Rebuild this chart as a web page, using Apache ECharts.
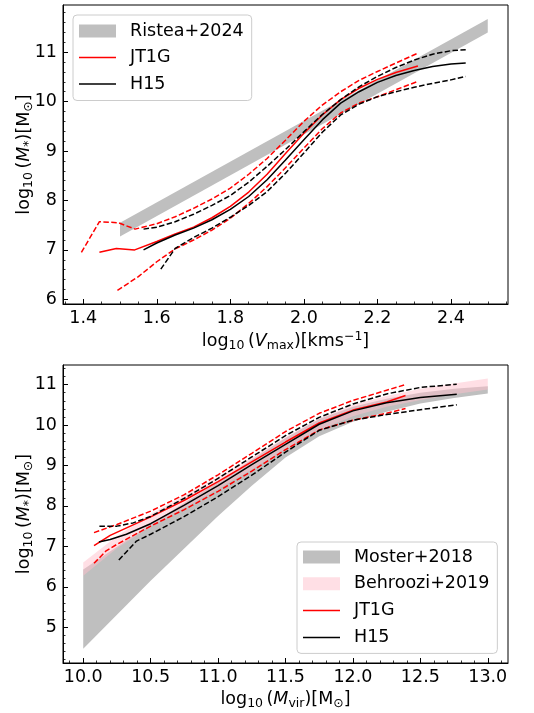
<!DOCTYPE html>
<html>
<head>
<meta charset="utf-8">
<script src="https://cdn.jsdelivr.net/npm/echarts@6/dist/echarts.min.js"></script>
<style>
  html, body { margin: 0; padding: 0; background: #fff; }
  #chart { width: 534px; height: 713px; }
</style>
</head>
<body>
<div id="chart"></div>
<script>
// ---------- Upper panel: stellar mass vs log10 Vmax ----------
const ristX  = [1.5, 2.5];
const ristLo = [7.27, 11.40];
const ristHi = [7.55, 11.67];

const vJT   = [1.444, 1.49, 1.54, 1.6, 1.65, 1.7, 1.75, 1.8, 1.85, 1.9, 1.95, 2.0, 2.05, 2.1, 2.15, 2.2, 2.25, 2.31];
const jtMed = [6.95, 7.03, 7.0, 7.17, 7.32, 7.46, 7.65, 7.88, 8.17, 8.53, 8.95, 9.36, 9.73, 10.04, 10.27, 10.45, 10.59, 10.72];

const vJTup = [1.395, 1.444, 1.495, 1.541, 1.6, 1.65, 1.7, 1.75, 1.8, 1.85, 1.9, 1.95, 2.0, 2.05, 2.1, 2.15, 2.2, 2.25, 2.31];
const jtHi  = [6.95, 7.57, 7.55, 7.42, 7.53, 7.67, 7.84, 8.03, 8.25, 8.53, 8.85, 9.22, 9.6, 9.93, 10.2, 10.43, 10.61, 10.78, 10.98];

const vJTlo = [1.493, 1.55, 1.6, 1.65, 1.7, 1.75, 1.8, 1.85, 1.9, 1.95, 2.0, 2.05, 2.1, 2.15, 2.2, 2.25, 2.31];
const jtLo  = [6.18, 6.46, 6.76, 7.02, 7.2, 7.4, 7.64, 7.94, 8.28, 8.66, 9.06, 9.45, 9.77, 9.97, 10.1, 10.24, 10.41];

const vH   = [1.564, 1.6, 1.65, 1.7, 1.75, 1.8, 1.85, 1.9, 1.95, 2.0, 2.05, 2.1, 2.15, 2.2, 2.25, 2.3, 2.35, 2.4, 2.44];
const hMed = [7.0, 7.14, 7.3, 7.44, 7.61, 7.82, 8.08, 8.42, 8.82, 9.23, 9.63, 9.97, 10.2, 10.39, 10.53, 10.63, 10.71, 10.76, 10.78];

const vHup = [1.564, 1.6, 1.65, 1.7, 1.75, 1.8, 1.85, 1.9, 1.95, 2.0, 2.05, 2.1, 2.15, 2.2, 2.25, 2.3, 2.35, 2.4, 2.44];
const hHi  = [7.42, 7.46, 7.57, 7.72, 7.9, 8.1, 8.37, 8.69, 9.03, 9.39, 9.74, 10.04, 10.3, 10.51, 10.69, 10.84, 10.96, 11.03, 11.05];

const vHlo = [1.611, 1.65, 1.7, 1.75, 1.8, 1.85, 1.9, 1.95, 2.0, 2.05, 2.1, 2.15, 2.2, 2.25, 2.3, 2.35, 2.4, 2.44];
const hLo  = [6.61, 7.03, 7.25, 7.44, 7.66, 7.9, 8.18, 8.55, 8.96, 9.38, 9.73, 9.95, 10.1, 10.2, 10.29, 10.37, 10.44, 10.51];

// ---------- Lower panel: stellar mass vs log10 Mvir ----------
const mosX  = [10.0, 10.5, 11.0, 11.25, 11.5, 11.75, 12.0, 12.25, 12.5, 12.75, 13.0];
const mosLo = [4.47, 6.15, 7.75, 8.5, 9.2, 9.72, 10.08, 10.33, 10.53, 10.67, 10.78];
const mosHi = [6.43, 7.55, 8.6, 9.15, 9.68, 10.15, 10.45, 10.65, 10.8, 10.9, 10.96];

const behX  = [10.0, 10.25, 10.5, 10.75, 11.0, 11.25, 11.5, 11.75, 12.0, 12.25, 12.5, 12.75, 13.0];
const behLo = [6.27, 6.95, 7.5, 7.95, 8.42, 8.9, 9.4, 9.88, 10.22, 10.45, 10.62, 10.76, 10.88];
const behHi = [6.6, 7.25, 7.8, 8.25, 8.72, 9.2, 9.7, 10.16, 10.5, 10.72, 10.9, 11.03, 11.15];

const mJT    = [10.08, 10.2, 10.35, 10.5, 10.75, 11.0, 11.25, 11.5, 11.75, 12.0, 12.25, 12.39];
const bJtMed = [7.02, 7.27, 7.5, 7.73, 8.14, 8.6, 9.09, 9.58, 10.05, 10.37, 10.57, 10.73];

const mJTup = [10.08, 10.25, 10.5, 10.75, 11.0, 11.25, 11.5, 11.75, 12.0, 12.25, 12.39];
const bJtHi = [7.34, 7.54, 7.87, 8.28, 8.77, 9.3, 9.84, 10.29, 10.61, 10.86, 11.0];

const mJTlo = [10.08, 10.17, 10.25, 10.5, 10.75, 11.0, 11.25, 11.5, 11.75, 12.0, 12.25, 12.39];
const bJtLo = [6.58, 6.89, 7.05, 7.5, 7.91, 8.36, 8.86, 9.39, 9.88, 10.12, 10.29, 10.41];

const mH    = [10.116, 10.2, 10.32, 10.5, 10.75, 11.0, 11.25, 11.5, 11.75, 12.0, 12.25, 12.5, 12.77];
const bHMed = [7.11, 7.17, 7.3, 7.56, 8.02, 8.5, 9.02, 9.52, 10.02, 10.35, 10.55, 10.68, 10.76];

const mHup = [10.12, 10.25, 10.37, 10.5, 10.75, 11.0, 11.25, 11.5, 11.75, 12.0, 12.25, 12.5, 12.77];
const bHHi = [7.5, 7.5, 7.58, 7.74, 8.19, 8.68, 9.21, 9.74, 10.19, 10.52, 10.77, 10.93, 11.01];

const mHlo = [10.264, 10.395, 10.5, 10.75, 11.0, 11.25, 11.5, 11.75, 12.0, 12.25, 12.5, 12.77];
const bHLo = [6.66, 7.13, 7.3, 7.74, 8.23, 8.76, 9.33, 9.87, 10.12, 10.26, 10.38, 10.5];

// ---------- Tick labels ----------
const topXTicks = [1.4, 1.6, 1.8, 2.0, 2.2, 2.4];
const topYTicks = [6, 7, 8, 9, 10, 11];
const botXTicks = [10.0, 10.5, 11.0, 11.5, 12.0, 12.5, 13.0];
const botYTicks = [5, 6, 7, 8, 9, 10, 11];

// ---------- Helpers ----------
const FONT = 'DejaVu Sans';
const FS = 17.5;
const RED = '#ff0000';
const BLACK = '#000000';
const DASH = [5.5, 2.4];
const LINE_ICON = 'path://M0,0h37v1.5h-37z';

function minorTicks(lo, hi, step, majors) {
  const out = [];
  const n = Math.round((hi - lo) / step);
  for (let k = 0; k <= n; k++) {
    const v = +(lo + k * step).toFixed(4);
    if (!majors.some(m => Math.abs(m - v) < 1e-6)) out.push(v);
  }
  return out;
}
const pairs = (xs, ys) => xs.map((x, k) => [x, ys[k]]);

const RICH = {
  n: { fontFamily: FONT, fontSize: FS, lineHeight: 22, color: '#000' },
  i: { fontFamily: FONT, fontSize: FS, lineHeight: 22, fontStyle: 'italic', color: '#000' },
  s: { fontFamily: FONT, fontSize: 12.5, lineHeight: 12, verticalAlign: 'bottom', color: '#000' },
  p: { fontFamily: FONT, fontSize: 12.5, lineHeight: 12, verticalAlign: 'top', color: '#000' }
};

const LIMITS = {
  topX: [1.345, 2.555], topY: [5.905, 11.955],
  botX: [9.85, 13.15],  botY: [4.115, 11.485]
};

function majorAxis(kind, grid, lim, ticks, fmt, name, gap) {
  const isX = kind === 'x';
  return {
    type: 'value', gridIndex: grid, min: lim[0], max: lim[1],
    position: isX ? 'bottom' : 'left',
    name: name, nameLocation: 'middle', nameGap: gap, nameMoveOverlap: false,
    nameRotate: isX ? 0 : 90,
    nameTextStyle: { rich: RICH },
    axisLine: { show: true, onZero: false, lineStyle: { color: '#000', width: 1 } },
    axisTick: { show: true, inside: true, length: 5, customValues: ticks, lineStyle: { color: '#000', width: 1 } },
    axisLabel: { show: true, customValues: ticks, formatter: fmt, margin: isX ? 5 : 6,
                 fontFamily: FONT, fontSize: FS, color: '#000' },
    splitLine: { show: false },
    minorTick: { show: false }
  };
}
function minorAxis(kind, grid, lim, ticks) {
  const isX = kind === 'x';
  return {
    type: 'value', gridIndex: grid, min: lim[0], max: lim[1],
    position: isX ? 'bottom' : 'left',
    axisLine: { show: false, onZero: false },
    axisTick: { show: true, inside: true, length: 2.5, customValues: ticks, lineStyle: { color: '#000', width: 0.8 } },
    axisLabel: { show: false },
    splitLine: { show: false }
  };
}

function band(name, grid, xs, lo, hi, fill, z) {
  return {
    type: 'custom', name: name, xAxisIndex: grid, yAxisIndex: grid,
    silent: true, z: z,
    itemStyle: { color: fill },
    data: xs.map((x, k) => [x, lo[k], hi[k]]),
    encode: { x: 0, y: [1, 2] },
    renderItem: function (params, api) {
      if (params.dataIndex !== 0) return;
      const pts = [];
      for (let k = 0; k < xs.length; k++) pts.push(api.coord([xs[k], hi[k]]));
      for (let k = xs.length - 1; k >= 0; k--) pts.push(api.coord([xs[k], lo[k]]));
      return { type: 'polygon', shape: { points: pts }, style: { fill: fill } };
    }
  };
}
function curve(name, grid, xs, ys, color, dashed) {
  return {
    type: 'line', name: name, xAxisIndex: grid, yAxisIndex: grid,
    data: pairs(xs, ys), symbol: 'none', showSymbol: false, smooth: false,
    z: 3, silent: true,
    itemStyle: { color: color },
    lineStyle: { color: color, width: 1.5, type: dashed ? DASH : 'solid' }
  };
}

const legendBase = {
  orient: 'vertical', selectedMode: false,
  itemWidth: 37, itemHeight: 13,
  backgroundColor: 'rgba(255,255,255,0.8)',
  borderColor: '#cccccc', borderWidth: 1, borderRadius: 4,
  textStyle: { fontFamily: FONT, fontSize: FS, color: '#000', lineHeight: 20, padding: [0, 0, 0, 9] }
};

const GRAY = '#bfbfbf';
const PINK = 'rgba(255,192,203,0.5)';

const option = {
  animation: false,
  backgroundColor: '#ffffff',
  grid: [
    { left: 63, top: 5, width: 445, height: 299, show: true, borderColor: '#000', borderWidth: 1, outerBoundsMode: 'none' },
    { left: 63, top: 365, width: 445, height: 298, show: true, borderColor: '#000', borderWidth: 1, outerBoundsMode: 'none' }
  ],
  xAxis: [
    majorAxis('x', 0, LIMITS.topX, topXTicks, v => (+v).toFixed(1),
      '{n|log}{s|10}{n|\u2009(}{i|V}{s|max}{n|)[kms}{p|\u22121}{n|]}', 26),
    majorAxis('x', 1, LIMITS.botX, botXTicks, v => (+v).toFixed(1),
      '{n|log}{s|10}{n|\u2009(}{i|M}{s|vir}{n|)[M}{s|\u2299}{n|]}', 25),
    minorAxis('x', 0, LIMITS.topX, minorTicks(1.35, 2.55, 0.05, topXTicks)),
    minorAxis('x', 1, LIMITS.botX, minorTicks(9.9, 13.1, 0.1, botXTicks))
  ],
  yAxis: [
    majorAxis('y', 0, LIMITS.topY, topYTicks, v => String(Math.round(v)),
      '{n|log}{s|10}{n|\u2009(}{i|M}{s|*}{n|)[M}{s|\u2299}{n|]}', 28),
    majorAxis('y', 1, LIMITS.botY, botYTicks, v => String(Math.round(v)),
      '{n|log}{s|10}{n|\u2009(}{i|M}{s|*}{n|)[M}{s|\u2299}{n|]}', 28),
    minorAxis('y', 0, LIMITS.topY, minorTicks(6.0, 11.8, 0.2, topYTicks)),
    minorAxis('y', 1, LIMITS.botY, minorTicks(4.2, 11.4, 0.2, botYTicks))
  ],
  legend: [
    Object.assign({}, legendBase, {
      left: 73, top: 15, padding: [6, 8, 6.5, 6], itemGap: 6.5,
      data: [
        { name: 'Ristea+2024', icon: 'rect', itemStyle: { color: GRAY } },
        { name: 'JT1G', icon: LINE_ICON, itemStyle: { color: RED } },
        { name: 'H15', icon: LINE_ICON, itemStyle: { color: BLACK } }
      ]
    }),
    Object.assign({}, legendBase, {
      left: 297, top: 542, padding: [5, 8, 6, 6], itemGap: 6.8,
      data: [
        { name: 'Moster+2018', icon: 'rect', itemStyle: { color: GRAY } },
        { name: 'Behroozi+2019', icon: 'rect', itemStyle: { color: PINK } },
        { name: 'JT1G', icon: LINE_ICON, itemStyle: { color: RED } },
        { name: 'H15', icon: LINE_ICON, itemStyle: { color: BLACK } }
      ]
    })
  ],
  series: [
    band('Ristea+2024', 0, ristX, ristLo, ristHi, GRAY, 1),
    curve('JT1G', 0, vJT, jtMed, RED, false),
    curve('JT1G upper', 0, vJTup, jtHi, RED, true),
    curve('JT1G lower', 0, vJTlo, jtLo, RED, true),
    curve('H15', 0, vH, hMed, BLACK, false),
    curve('H15 upper', 0, vHup, hHi, BLACK, true),
    curve('H15 lower', 0, vHlo, hLo, BLACK, true),

    band('Moster+2018', 1, mosX, mosLo, mosHi, GRAY, 1),
    band('Behroozi+2019', 1, behX, behLo, behHi, PINK, 2),
    curve('JT1G', 1, mJT, bJtMed, RED, false),
    curve('JT1G upper', 1, mJTup, bJtHi, RED, true),
    curve('JT1G lower', 1, mJTlo, bJtLo, RED, true),
    curve('H15', 1, mH, bHMed, BLACK, false),
    curve('H15 upper', 1, mHup, bHHi, BLACK, true),
    curve('H15 lower', 1, mHlo, bHLo, BLACK, true)
  ]
};

const chart = echarts.init(document.getElementById('chart'), null, { renderer: 'canvas' });
chart.setOption(option);
</script>
</body>
</html>
